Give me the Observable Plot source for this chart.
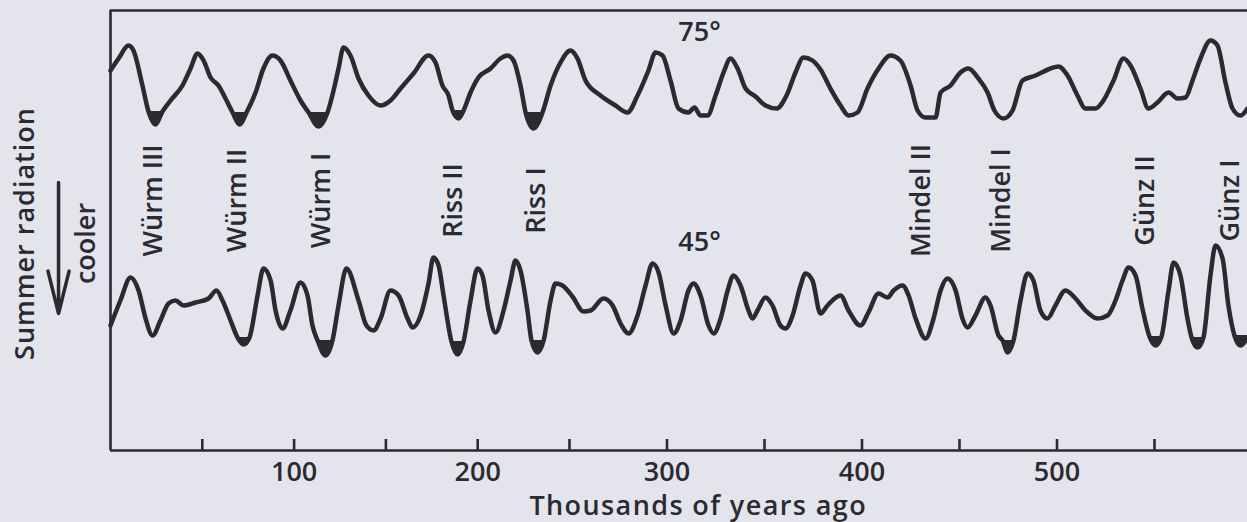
<!DOCTYPE html>
<html>
<head>
<meta charset="utf-8">
<script src="https://cdn.jsdelivr.net/npm/d3@7"></script>
<script src="https://cdn.jsdelivr.net/npm/@observablehq/plot@0.6"></script>
<style>
  html, body { margin: 0; padding: 0; background: #e4e4ed; overflow: hidden; }
  #chart svg { display: block; max-width: none; }
</style>
</head>
<body>
<div id="chart"></div>
<script>
// ---- Data ----
// x: thousands of years ago; v: relative summer radiation (higher = warmer)
const years75 = [0,4.4,9.8,12.5,17.4,20.7,24.5,28.3,32.7,39.2,43.6,47.4,50.7,54.5,58.8,63.2,66.5,70.3,74.1,79.0,83.3,88.2,92.6,98.0,103.5,107.9,113.3,118.2,121.5,124.2,126.9,130.7,135.1,140.5,147.1,152.5,158.0,165.0,173.2,177.0,180.8,184.1,186.3,189.6,192.3,196.1,200.4,207.0,212.4,216.2,219.5,223.3,226.1,230.4,235.3,239.7,245.1,250.5,254.1,258.2,265.9,273.6,279.7,284.9,290.5,294.1,297.7,301.8,305.9,311.0,314.1,317.2,320.8,324.9,329.0,332.6,336.2,340.3,345.4,350.5,356.2,361.3,365.9,370.0,374.6,378.7,383.8,389.0,393.1,397.7,402.8,408.5,414.6,419.7,424.9,428.5,432.6,437.7,440.3,445.4,450.5,454.6,459.7,464.4,467.9,472.6,477.2,482.3,489.0,496.7,500.8,505.4,510.5,514.6,519.7,523.8,529.0,534.1,537.7,542.8,546.9,551.5,557.2,561.8,565.9,569.5,573.6,578.7,582.3,586.4,590.0,594.1,597.7];
const values75 = [380,392,405,400,365,339,326,339,350,365,382,397,390,373,365,350,338,326,338,358,382,395,390,370,350,338,324,338,360,382,403,395,372,355,345,350,362,377,395,388,365,355,340,332,340,358,373,382,392,395,390,365,338,322,338,365,388,400,392,370,355,345,338,355,380,398,395,370,342,338,343,335,335,355,378,392,382,362,354,345,342,355,378,393,390,381,362,345,335,338,362,382,395,390,365,340,333,333,358,365,378,382,372,358,340,332,340,370,375,382,384,375,355,342,342,350,370,392,385,362,342,348,358,352,353,370,392,410,405,368,342,335,342];

const years45 = [0,5.4,10.9,15.3,19.1,22.9,27.2,31.6,35.4,39.8,46.3,53.4,57.7,61.0,65.4,69.2,72.4,75.7,80.1,83.3,87.2,89.9,93.7,98.0,103.5,107.3,110.0,112.8,117.1,120.9,124.2,128.5,135.1,139.4,143.3,147.1,152.5,156.9,161.8,164.5,168.9,173.2,175.9,178.7,181.4,185.7,189.0,192.3,196.1,199.9,202.6,205.9,209.7,214.1,217.9,220.6,223.3,227.1,229.3,232.6,235.9,239.7,242.4,246.2,251.5,257.2,260.8,267.4,272.1,276.2,280.3,284.9,289.0,292.6,295.7,299.3,303.4,307.0,311.0,313.6,317.2,321.3,323.9,327.5,331.1,334.1,337.7,341.8,343.8,346.4,350.5,354.1,358.2,360.8,364.4,368.5,371.0,374.6,378.7,382.3,389.0,393.1,399.2,403.3,408.5,413.1,416.2,420.8,423.9,427.5,432.6,436.7,440.3,443.8,448.0,451.5,454.1,458.2,463.3,465.9,470.0,472.1,474.6,477.7,481.3,484.9,487.9,491.5,495.1,499.2,504.3,509.5,514.6,520.8,525.9,530.0,533.6,536.7,540.3,543.8,547.4,550.5,553.6,557.2,559.8,563.3,566.9,569.0,572.1,575.1,578.7,581.3,584.9,587.9,591.0,594.1,597.7];
const values45 = [125,150,173,160,132,115,130,147,150,145,148,152,160,150,130,113,106,113,155,182,170,140,122,140,168,155,125,110,95,110,145,182,150,125,120,132,160,155,132,123,135,167,193,185,155,109,96,109,150,182,175,140,118,140,170,190,180,140,110,98,110,150,167,165,154,139,140,152,145,127,117,135,165,187,178,145,117,130,160,167,155,125,117,132,160,175,165,140,132,140,153,145,125,122,135,165,177,170,137,145,155,140,125,138,157,153,160,165,155,132,112,132,160,172,160,132,123,135,153,145,115,110,98,110,150,177,170,140,132,145,160,152,140,132,135,150,170,183,175,142,114,105,114,160,188,175,132,113,103,113,175,205,192,145,115,105,113];

// shaded cold minima: start year, end year, shading level
const shade75Start = [20.7, 66.5, 107.9, 186.3, 226.1];
const shade75End   = [28.3, 74.1, 118.2, 192.3, 235.3];
const shade75Level = [339, 338, 338, 340, 338];
const shade45Start = [69.2, 112.8, 185.7, 229.3, 472.1, 547.4, 569.0, 591.0];
const shade45End   = [75.7, 120.9, 192.3, 235.9, 477.7, 553.6, 575.1, 597.7];
const shade45Level = [113, 110, 109, 110, 110, 114, 113, 115];

const glacialNames = ["Würm III","Würm II","Würm I","Riss II","Riss I","Mindel II","Mindel I","Günz II","Günz I"];
const glacialYears = [23.4, 69.2, 114.9, 186.8, 232.0, 430.5, 471.5, 545.4, 589.0];

const latitudeNames = ["75°", "45°"];
const latitudeYears = [316.7, 316.7];
const latitudeValues = [418, 208];

const majorTicks = [100, 200, 300, 400, 500];
const minorTicks = [50, 100, 150, 200, 250, 300, 350, 400, 450, 500, 550];
const xTitle = "Thousands of years ago";
const yTitle = "Summer radiation";
const arrowLabel = "cooler";

// ---- Build tables ----
const d75 = years75.map((x, i) => ({x, v: values75[i]}));
const d45 = years45.map((x, i) => ({x, v: values45[i]}));
const shadeData = [];
shade75Start.forEach((s, k) => d75.filter(d => d.x >= s && d.x <= shade75End[k])
  .forEach(d => shadeData.push({x: d.x, v: d.v, level: shade75Level[k], blob: "a" + k})));
shade45Start.forEach((s, k) => d45.filter(d => d.x >= s && d.x <= shade45End[k])
  .forEach(d => shadeData.push({x: d.x, v: d.v, level: shade45Level[k], blob: "b" + k})));

const ink = "#2a2a30";
const paper = "#e4e4ed";
const font = "'Open Sans', sans-serif";

const chart = Plot.plot({
  width: 1247,
  height: 522,
  marginLeft: 110,
  marginRight: 0,
  marginTop: 10,
  marginBottom: 72,
  style: {background: paper, color: ink, fontFamily: font},
  x: {type: "linear", domain: [0, 250, 550], range: [110, 569, 1154], axis: null},
  y: {type: "linear", domain: [0, 440], range: [450, 10], axis: null},
  marks: [
    Plot.ruleX([0], {y1: 0, y2: 440, stroke: ink, strokeWidth: 2.6}),
    Plot.ruleY([440, 0], {x1: 0, x2: 640, stroke: ink, strokeWidth: 2.6}),
    Plot.ruleX(minorTicks, {y1: 0, y2: 11, stroke: ink, strokeWidth: 2.6}),
    Plot.text(majorTicks, {x: d => d, y: 0, dy: 11, lineAnchor: "top", text: d => String(d),
      fontSize: 27, fontWeight: 600, fill: ink}),
    Plot.text([xTitle], {x: 316, y: 0, dy: 64, lineAnchor: "bottom", text: d => d,
      fontSize: 27, fontWeight: 600, fill: ink}),
    Plot.areaY(shadeData, {x: "x", y1: "level", y2: "v", z: "blob", curve: "monotone-x", fill: ink}),
    Plot.line(d75, {x: "x", y: "v", curve: "monotone-x", stroke: ink, strokeWidth: 4.5, strokeLinejoin: "round"}),
    Plot.line(d45, {x: "x", y: "v", curve: "monotone-x", stroke: ink, strokeWidth: 4.5, strokeLinejoin: "round"}),
    Plot.text(glacialNames, {x: (d, i) => glacialYears[i], y: 250, text: d => d, rotate: -90,
      textAnchor: "middle", fontSize: 27, fontWeight: 600, fill: ink}),
    Plot.text(latitudeNames, {x: (d, i) => latitudeYears[i], y: (d, i) => latitudeValues[i], text: d => d,
      fontSize: 27, fontWeight: 600, fill: ink}),
    Plot.text([yTitle], {frameAnchor: "left", y: 217, dx: -85, rotate: -90, textAnchor: "middle",
      text: d => d, fontSize: 27, fontWeight: 600, fill: ink}),
    Plot.text([arrowLabel], {frameAnchor: "left", y: 207, dx: -24, rotate: -90, textAnchor: "middle",
      text: d => d, fontSize: 27, fontWeight: 600, fill: ink}),
    Plot.arrow([0], {x1: -28.3, x2: -28.3, y1: 268, y2: 137, stroke: ink, strokeWidth: 3.5,
      headLength: 22, headAngle: 28})
  ]
});
// widen the letter spacing of the two axis titles, as in the typeset original
d3.select(chart).selectAll("text")
  .filter(function () { return this.textContent === xTitle; })
  .style("letter-spacing", "1.4px");
d3.select(chart).selectAll("text")
  .filter(function () { return this.textContent === yTitle; })
  .style("letter-spacing", "1px");
document.getElementById("chart").appendChild(chart);
</script>
</body>
</html>
